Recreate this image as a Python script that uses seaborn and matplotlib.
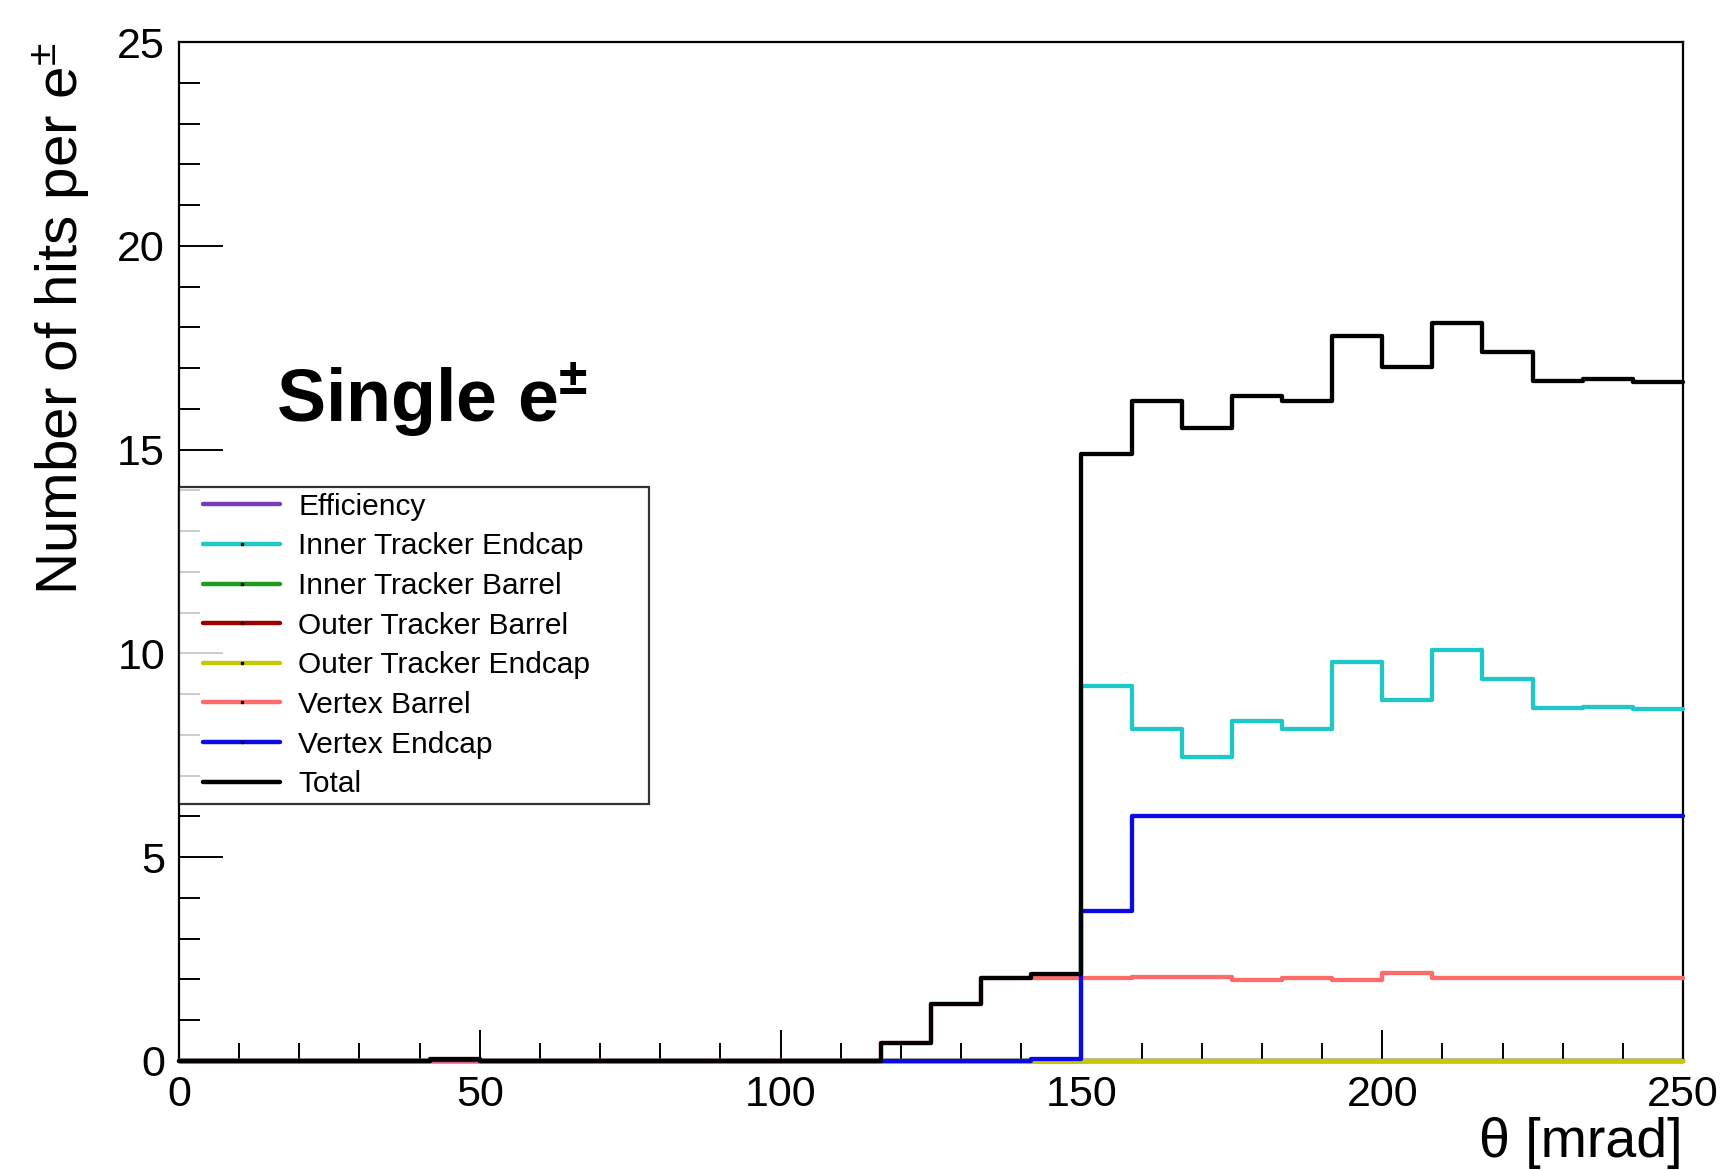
import numpy as np
import pandas as pd
import matplotlib
matplotlib.use("Agg")
import matplotlib.pyplot as plt
import matplotlib.font_manager as fm
from matplotlib.lines import Line2D
from matplotlib.legend_handler import HandlerLine2D
from matplotlib.ticker import MultipleLocator
import seaborn as sns

# ---- data: hits per e+- in 30 theta bins (0..250 mrad, width 25/3) ----
n_bins = 30
theta_range = (0, 250)
bin_edges = np.linspace(theta_range[0], theta_range[1], n_bins + 1)
bin_centers = 0.5 * (bin_edges[:-1] + bin_edges[1:])

efficiency = [0.0] * 30
inner_tracker_endcap = [0.0] * 18 + [9.20, 8.15, 7.45, 8.34, 8.15, 9.80,
                                     8.86, 10.08, 9.37, 8.65, 8.69, 8.63]
inner_tracker_barrel = [0.0] * 30
outer_tracker_barrel = [0.0] * 30
outer_tracker_endcap = [0.0] * 30
vertex_barrel = [0.0] * 14 + [0.45, 1.39, 2.03, 2.04, 2.03, 2.07, 2.07, 1.99,
                              2.03, 1.99, 2.15, 2.03, 2.03, 2.03, 2.03, 2.03]
vertex_endcap = [0.0] * 5 + [0.02] + [0.0] * 11 + [0.06, 3.68] + [6.02] * 11
total = [0.0] * 5 + [0.06] + [0.0] * 8 + [0.45, 1.39, 2.03, 2.14,
                                         14.88, 16.19, 15.52, 16.32, 16.19, 17.79,
                                         17.03, 18.11, 17.40, 16.68, 16.72, 16.67]

series_names = ["Efficiency", "Inner Tracker Endcap", "Inner Tracker Barrel",
                "Outer Tracker Barrel", "Outer Tracker Endcap", "Vertex Barrel",
                "Vertex Endcap", "Total"]
series_values = [efficiency, inner_tracker_endcap, inner_tracker_barrel,
                 outer_tracker_barrel, outer_tracker_endcap, vertex_barrel,
                 vertex_endcap, total]
series_colors = ["#7a3db8", "#1ec8c8", "#1f9a1f", "#9a0000",
                 "#c8c800", "#ff6a6a", "#0a0ae6", "#000000"]

sns.set_style("white", rc={"text.color": "black", "axes.labelcolor": "black",
                           "xtick.color": "black", "ytick.color": "black",
                           "axes.edgecolor": "black"})
_avail = {f.name for f in fm.fontManager.ttflist}
MAIN = "Liberation Sans" if "Liberation Sans" in _avail else "DejaVu Sans"
plt.rcParams["font.family"] = [MAIN, "DejaVu Sans"]
plt.rcParams["mathtext.fontset"] = "custom"
plt.rcParams["mathtext.rm"] = MAIN
plt.rcParams["mathtext.default"] = "regular"

fig = plt.figure(figsize=(17.29, 11.70), dpi=100)
ax = fig.add_axes([0.1035, 0.0932, 0.8699, 0.8709])

for name, vals, col in zip(series_names, series_values, series_colors):
    df = pd.DataFrame({"theta": bin_centers, "hits": vals})
    n_before = len(ax.lines)
    sns.histplot(data=df, x="theta", weights="hits", bins=n_bins,
                 binrange=theta_range, element="step", fill=False,
                 color=col, linewidth=3.1, ax=ax)
    for ln in ax.lines[n_before:]:
        ln.set_clip_on(False)
        ln.set_zorder(3)

ax.set_xlim(0, 250)
ax.set_ylim(0, 25)

# ROOT-like frame and ticks
for s in ax.spines.values():
    s.set_linewidth(1.6)
    s.set_color("black")
ax.xaxis.set_major_locator(MultipleLocator(50))
ax.xaxis.set_minor_locator(MultipleLocator(10))
ax.yaxis.set_major_locator(MultipleLocator(5))
ax.yaxis.set_minor_locator(MultipleLocator(1))
ax.tick_params(axis="x", which="major", direction="in", length=22, width=1.4,
               pad=10, labelsize=31, top=False, bottom=True)
ax.tick_params(axis="x", which="minor", direction="in", length=13, width=1.4,
               top=False, bottom=True)
ax.tick_params(axis="y", which="major", direction="in", length=32, width=1.4,
               pad=10, labelsize=31, right=False, left=True)
ax.tick_params(axis="y", which="minor", direction="in", length=15, width=1.4,
               right=False, left=True)

ax.set_ylabel(r"Number of hits per e$^{\pm}$", fontsize=42, loc="top")
ax.yaxis.set_label_coords(-0.078, 1.0)
ax.yaxis.label.set_va("center")
ax.set_xlabel(r"θ [mrad]", fontsize=40, loc="right")
ax.xaxis.set_label_coords(1.0, -0.081)
ax.xaxis.label.set_va("center")

ax.text(0.0645, 0.627, r"Single e$^{\pm}$", transform=ax.transAxes,
        fontsize=53, fontweight="bold", ha="left", va="baseline", color="black")

handles = []
for n, c in zip(series_names, series_colors):
    if n in ("Efficiency", "Total"):
        handles.append(Line2D([0], [0], color=c, lw=3.2))
    else:
        handles.append(Line2D([0], [0], color=c, lw=3.2, marker="s", markersize=1.6,
                              markerfacecolor="black", markeredgecolor="black"))
leg = ax.legend(handles, series_names, loc="lower left",
                bbox_to_anchor=(0.0, 0.252, 0.3125, 0.313), mode="expand",
                borderaxespad=0, fontsize=21.5, frameon=True, fancybox=False,
                handlelength=3.2, handletextpad=0.6, labelspacing=0.39,
                borderpad=0.2,
                handler_map={Line2D: HandlerLine2D(xpad=0.6)})
leg.get_frame().set_edgecolor("black")
leg.get_frame().set_linewidth(1.6)
for t in leg.get_texts():
    t.set_color("black")
leg.set_zorder(5)

fig.savefig("out.png", dpi=100)
